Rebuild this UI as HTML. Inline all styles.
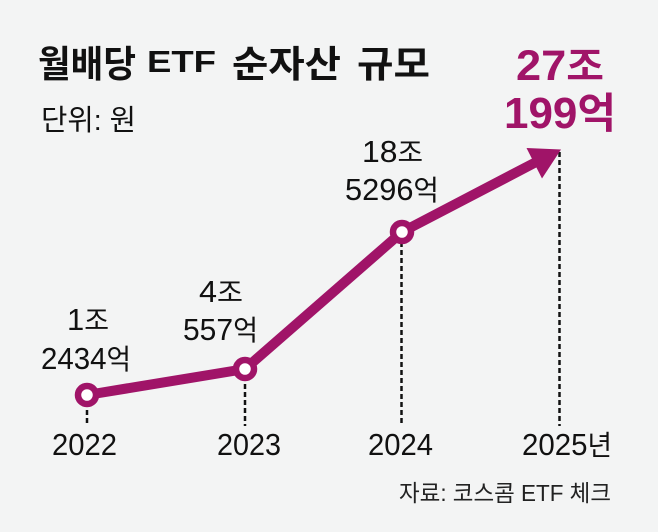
<!DOCTYPE html>
<html>
<head>
<meta charset="utf-8">
<style>
  html,body{margin:0;padding:0;background:#f3f4f4;}
  svg{display:block;}
  text{font-family:"Liberation Sans","Noto Sans CJK KR",sans-serif;}
  .k{font-family:"Noto Sans CJK KR","Liberation Sans",sans-serif;}
</style>
</head>
<body>
<svg width="658" height="532" viewBox="0 0 658 532" xmlns="http://www.w3.org/2000/svg">
  <rect width="658" height="532" fill="#f3f4f4"/>

  <!-- Title -->
  <text class="k" x="38" y="77" font-size="37" font-weight="bold" fill="#111" textLength="98" lengthAdjust="spacingAndGlyphs">월배당</text>
  <text x="147" y="72" font-size="31" font-weight="bold" fill="#111" textLength="69" lengthAdjust="spacingAndGlyphs">ETF</text>
  <text class="k" x="232" y="77" font-size="37" font-weight="bold" fill="#111" textLength="109" lengthAdjust="spacingAndGlyphs">순자산</text>
  <text class="k" x="357" y="77" font-size="37" font-weight="bold" fill="#111" textLength="73" lengthAdjust="spacingAndGlyphs">규모</text>

  <!-- Unit -->
  <text x="41" y="130" font-size="29" fill="#111" textLength="95" lengthAdjust="spacingAndGlyphs"><tspan class="k">단위</tspan>: <tspan class="k">원</tspan></text>

  <!-- Big purple value -->
  <text x="516" y="80" font-size="43" font-weight="bold" fill="#a01468" textLength="88" lengthAdjust="spacingAndGlyphs">27<tspan class="k" font-size="39">조</tspan></text>
  <text x="504" y="128" font-size="44" font-weight="bold" fill="#a01468" textLength="112" lengthAdjust="spacingAndGlyphs">199<tspan class="k" font-size="42">억</tspan></text>

  <!-- Dashed guides -->
  <g stroke="#111" stroke-width="2.5" stroke-dasharray="5 3" fill="none">
    <line x1="87" y1="410" x2="87" y2="426"/>
    <line x1="245" y1="384" x2="245" y2="426"/>
    <line x1="401.5" y1="242" x2="401.5" y2="426"/>
    <line x1="559.5" y1="152" x2="559.5" y2="426"/>
  </g>

  <!-- Line series -->
  <polyline points="87,395 245,369 402,232 540,160" fill="none" stroke="#a01468" stroke-width="10" stroke-linejoin="round"/>
  <polygon points="561,149.5 526.5,148 542,178.5" fill="#a01468"/>
  <g fill="#fff" stroke="#a01468" stroke-width="6.5">
    <circle cx="87" cy="395" r="9"/>
    <circle cx="245" cy="369" r="9"/>
    <circle cx="402" cy="232" r="9"/>
  </g>

  <!-- Data labels -->
  <g fill="#111" font-size="31">
    <text x="67" y="330" textLength="42" lengthAdjust="spacingAndGlyphs">1<tspan class="k" font-size="27">조</tspan></text>
    <text x="41" y="369" textLength="90" lengthAdjust="spacingAndGlyphs">2434<tspan class="k" font-size="28">억</tspan></text>

    <text x="199" y="302" textLength="44" lengthAdjust="spacingAndGlyphs">4<tspan class="k" font-size="27">조</tspan></text>
    <text x="183" y="340" textLength="75" lengthAdjust="spacingAndGlyphs">557<tspan class="k" font-size="28">억</tspan></text>

    <text x="362" y="162" textLength="61" lengthAdjust="spacingAndGlyphs">18<tspan class="k" font-size="27">조</tspan></text>
    <text x="345" y="200" textLength="94" lengthAdjust="spacingAndGlyphs">5296<tspan class="k" font-size="28">억</tspan></text>

    <text x="52" y="455" textLength="65" lengthAdjust="spacingAndGlyphs">2022</text>
    <text x="217" y="455" textLength="64" lengthAdjust="spacingAndGlyphs">2023</text>
    <text x="368" y="455" textLength="65" lengthAdjust="spacingAndGlyphs">2024</text>
    <text x="522" y="455" textLength="90" lengthAdjust="spacingAndGlyphs">2025<tspan class="k" font-size="28">년</tspan></text>
  </g>

  <!-- Source -->
  <text x="399" y="501" font-size="23" fill="#222" textLength="212" lengthAdjust="spacingAndGlyphs"><tspan class="k">자료</tspan>: <tspan class="k">코스콤</tspan> ETF <tspan class="k">체크</tspan></text>
</svg>
</body>
</html>
